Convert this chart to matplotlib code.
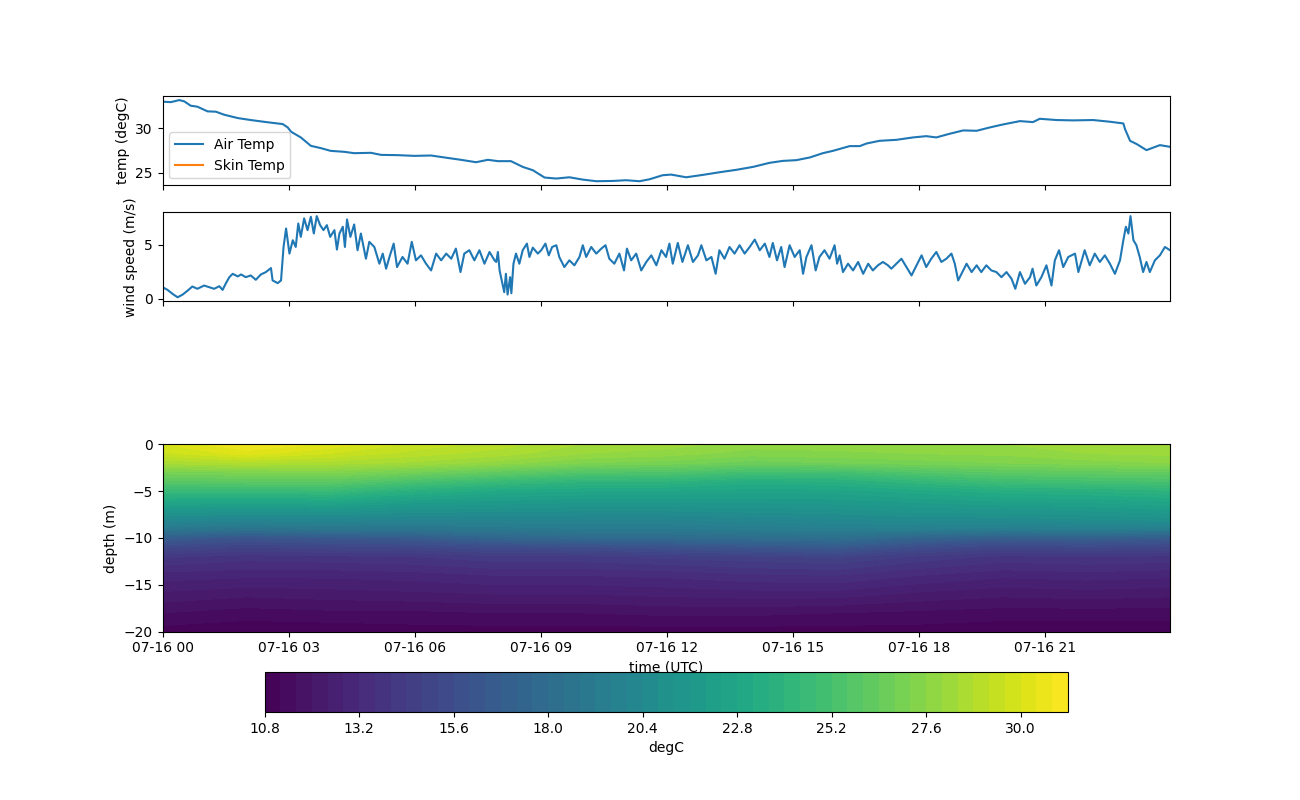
import numpy as np
import pandas as pd
import matplotlib
matplotlib.use("Agg")
import matplotlib.pyplot as plt
import matplotlib.dates as mdates

start = pd.Timestamp("2021-07-16 00:00")

# air temperature (hours since 00 UTC, degC)
air_hours = [0.0, 0.2, 0.4, 0.52, 0.67, 0.83, 1.07, 1.27, 1.47, 1.79, 2.1, 2.42, 2.66, 2.86,
             2.98, 3.06, 3.29, 3.53, 3.77, 4.0, 4.33, 4.56, 4.96, 5.2, 5.6, 5.99, 6.39, 6.71,
             7.1, 7.46, 7.74, 7.98, 8.29, 8.57, 8.81, 9.09, 9.37, 9.68, 10.0, 10.32, 10.71,
             11.03, 11.35, 11.59, 11.9, 12.1, 12.46, 12.86, 13.25, 13.65, 14.05, 14.44, 14.76,
             15.08, 15.4, 15.71, 15.95, 16.35, 16.59, 16.75, 17.06, 17.46, 17.86, 18.17, 18.41,
             18.73, 19.05, 19.37, 19.68, 20.0, 20.4, 20.71, 20.87, 21.27, 21.67, 22.14, 22.54,
             22.86, 22.9, 23.02, 23.18, 23.41, 23.73, 23.97]
air_temp = [32.95, 32.9, 33.13, 32.98, 32.5, 32.39, 31.87, 31.83, 31.49, 31.12, 30.9, 30.7, 30.56,
            30.45, 30.07, 29.59, 28.96, 28.02, 27.76, 27.46, 27.35, 27.2, 27.24, 27.01, 26.98,
            26.9, 26.94, 26.72, 26.46, 26.19, 26.46, 26.31, 26.31, 25.67, 25.3, 24.48, 24.37,
            24.51, 24.25, 24.07, 24.1, 24.18, 24.07, 24.29, 24.74, 24.81, 24.51, 24.78, 25.07,
            25.34, 25.67, 26.12, 26.34, 26.42, 26.72, 27.2, 27.46, 27.99, 27.99, 28.28, 28.58,
            28.69, 28.96, 29.1, 28.96, 29.37, 29.74, 29.7, 30.07, 30.41, 30.78, 30.67, 31.04,
            30.9, 30.86, 30.9, 30.71, 30.52, 29.89, 28.58, 28.21, 27.54, 28.1, 27.91]

# wind speed (hours, m/s)
wind_hours = [0.0, 0.12, 0.24, 0.36, 0.48, 0.6, 0.71, 0.83, 0.99, 1.11, 1.23, 1.35, 1.43, 1.51,
              1.59, 1.67, 1.79, 1.87, 1.98, 2.1, 2.22, 2.34, 2.46, 2.58, 2.62, 2.74, 2.82, 2.88,
              2.94, 3.02, 3.1, 3.17, 3.23, 3.29, 3.37, 3.45, 3.53, 3.6, 3.67, 3.75, 3.83, 3.91,
              3.99, 4.09, 4.15, 4.21, 4.29, 4.34, 4.39, 4.47, 4.56, 4.64, 4.72, 4.84, 4.92, 5.04,
              5.16, 5.24, 5.32, 5.4, 5.5, 5.58, 5.71, 5.83, 5.93, 6.03, 6.15, 6.27, 6.39, 6.51,
              6.63, 6.75, 6.87, 6.98, 7.09, 7.18, 7.3, 7.42, 7.54, 7.66, 7.78, 7.9, 7.94, 7.98,
              8.02, 8.08, 8.13, 8.17, 8.21, 8.27, 8.3, 8.35, 8.41, 8.49, 8.57, 8.67, 8.73, 8.81,
              8.93, 9.01, 9.11, 9.19, 9.27, 9.37, 9.44, 9.56, 9.68, 9.8, 9.92, 10.0, 10.08, 10.2,
              10.32, 10.44, 10.54, 10.63, 10.75, 10.87, 10.98, 11.05, 11.15, 11.27, 11.39, 11.51,
              11.63, 11.75, 11.87, 11.98, 12.06, 12.14, 12.26, 12.37, 12.5, 12.62, 12.74, 12.82,
              12.94, 13.06, 13.16, 13.25, 13.37, 13.49, 13.61, 13.73, 13.85, 13.97, 14.09, 14.21,
              14.33, 14.44, 14.52, 14.62, 14.72, 14.8, 14.92, 15.04, 15.16, 15.24, 15.32, 15.44,
              15.54, 15.63, 15.75, 15.87, 15.99, 16.05, 16.11, 16.19, 16.31, 16.43, 16.55, 16.67,
              16.79, 16.9, 17.02, 17.14, 17.26, 17.34, 17.46, 17.58, 17.7, 17.82, 17.94, 18.06,
              18.17, 18.29, 18.41, 18.53, 18.65, 18.77, 18.85, 18.93, 19.01, 19.13, 19.25, 19.37,
              19.48, 19.6, 19.72, 19.84, 19.96, 20.08, 20.2, 20.29, 20.4, 20.52, 20.64, 20.7,
              20.79, 20.91, 21.03, 21.15, 21.23, 21.33, 21.43, 21.55, 21.71, 21.79, 21.94, 22.06,
              22.18, 22.3, 22.42, 22.54, 22.66, 22.78, 22.86, 22.92, 22.98, 23.03, 23.1, 23.17,
              23.25, 23.33, 23.41, 23.49, 23.61, 23.73, 23.85, 23.97]
wind_speed = [1.08, 0.83, 0.46, 0.15, 0.4, 0.77, 1.14, 0.93, 1.23, 1.08, 0.93, 1.17, 0.83, 1.45,
              2.0, 2.31, 2.07, 2.25, 2.0, 2.16, 1.76, 2.25, 2.47, 2.84, 1.7, 1.45, 1.7, 4.78,
              6.48, 4.17, 5.4, 4.78, 6.94, 5.71, 7.41, 6.33, 7.56, 6.02, 7.62, 6.79, 6.33, 6.79,
              5.71, 6.33, 4.54, 6.02, 6.64, 4.78, 7.31, 5.71, 6.85, 4.48, 6.02, 3.7, 5.25, 4.78,
              3.24, 4.17, 2.78, 3.86, 5.09, 2.93, 3.86, 3.24, 5.25, 3.55, 4.01, 3.24, 2.62, 4.17,
              3.55, 4.17, 3.7, 4.63, 2.47, 4.17, 4.48, 3.55, 4.48, 3.24, 4.32, 3.55, 3.4, 4.32,
              2.62, 1.54, 0.62, 2.31, 0.4, 2.0, 0.52, 3.24, 4.17, 3.24, 4.48, 5.09, 3.86, 4.72,
              4.17, 4.48, 5.09, 4.01, 4.78, 4.94, 3.86, 2.93, 3.55, 3.09, 3.86, 4.94, 3.86, 4.78,
              4.17, 4.63, 4.94, 3.7, 3.24, 4.17, 2.62, 4.63, 3.55, 4.17, 2.62, 3.4,
              4.01, 3.09, 4.48, 3.86, 5.09, 3.24, 5.15, 3.4, 4.94, 3.4, 4.01, 4.94,
              3.55, 3.86, 2.31, 4.48, 3.7, 4.78, 4.17, 4.94, 4.17, 4.78, 5.46, 4.48,
              5.09, 3.86, 5.15, 3.55, 4.78, 2.93, 4.94, 3.86, 4.48, 2.31, 3.86, 4.94,
              2.62, 3.86, 4.48, 3.7, 4.94, 3.24, 4.01, 2.47, 3.24, 2.62, 3.4, 2.31,
              3.24, 2.62, 3.09, 3.4, 3.09, 2.78, 3.24, 3.7, 2.93, 2.16, 3.09, 4.01,
              2.93, 3.7, 4.32, 3.4, 3.7, 4.17, 3.24, 1.7, 2.31, 3.24, 2.47, 3.09,
              2.47, 3.09, 2.62, 2.47, 2.0, 2.47, 1.85, 0.93, 2.47, 1.39, 2.0, 2.78,
              1.23, 2.0, 3.09, 1.23, 3.55, 4.48, 2.93, 3.86, 4.17, 2.47, 4.48, 3.09,
              4.17, 3.4, 4.01, 3.24, 2.31, 3.55, 5.4, 6.64, 6.02, 7.62, 5.4, 4.94,
              3.86, 2.47, 3.4, 2.47, 3.55, 4.01, 4.78, 4.48]

# water temperature section (degC), rows = depth, columns = time
sec_hours = [0, 2, 4, 6, 8, 10, 12, 14, 16, 18, 20, 22, 24]
sec_depth = [0, -1, -2, -3, -4, -5, -6, -7, -8, -9, -10, -11, -12, -14, -16, -18, -20]
sec_temp = [
    [30.0, 30.8, 30.3, 29.5, 29.0, 28.4, 28.2, 27.8, 27.8, 27.9, 28.0, 28.3, 28.4],
    [29.5, 30.2, 29.6, 29.0, 28.6, 28.0, 27.8, 27.4, 27.5, 27.6, 27.7, 28.0, 28.1],
    [28.5, 28.8, 28.6, 28.3, 27.8, 27.2, 27.0, 26.6, 26.8, 27.0, 27.2, 27.4, 27.6],
    [27.0, 27.2, 27.3, 26.8, 26.2, 25.6, 25.5, 25.0, 25.0, 25.6, 26.0, 26.2, 26.3],
    [25.8, 26.0, 26.0, 25.2, 24.5, 24.0, 23.9, 23.4, 23.6, 24.2, 24.8, 25.0, 25.2],
    [24.4, 24.4, 24.5, 23.6, 23.0, 22.8, 22.7, 22.6, 22.6, 23.0, 23.4, 23.6, 23.9],
    [23.0, 22.9, 23.0, 22.3, 22.0, 21.8, 21.8, 21.8, 21.9, 22.2, 22.5, 22.6, 22.9],
    [21.6, 21.4, 21.5, 21.1, 21.0, 20.9, 20.9, 21.0, 21.1, 21.4, 21.5, 21.7, 22.0],
    [20.4, 20.1, 20.2, 20.0, 20.0, 20.0, 20.0, 20.2, 20.4, 20.6, 20.6, 20.8, 21.0],
    [19.0, 18.6, 18.8, 18.8, 19.0, 19.2, 19.2, 19.4, 19.5, 19.6, 19.5, 19.6, 19.4],
    [16.8, 16.1, 16.4, 16.6, 17.4, 17.7, 17.8, 18.0, 18.2, 17.3, 16.8, 17.0, 16.6],
    [15.2, 14.8, 15.0, 15.1, 15.5, 15.6, 15.9, 16.2, 16.5, 15.5, 15.0, 15.2, 15.0],
    [14.1, 13.8, 13.9, 14.0, 14.3, 14.3, 14.5, 14.7, 14.9, 14.3, 13.9, 14.0, 13.9],
    [13.0, 12.9, 12.9, 13.0, 13.2, 13.2, 13.3, 13.5, 13.6, 13.2, 12.9, 13.0, 12.9],
    [12.3, 12.1, 12.2, 12.3, 12.4, 12.4, 12.5, 12.6, 12.6, 12.3, 12.1, 12.2, 12.1],
    [11.6, 11.4, 11.5, 11.5, 11.6, 11.6, 11.7, 11.7, 11.6, 11.5, 11.4, 11.4, 11.4],
    [11.0, 10.9, 10.9, 11.0, 11.0, 11.0, 11.0, 11.0, 11.0, 11.0, 10.9, 10.9, 10.9],
]
cbar_ticks = [10.8, 13.2, 15.6, 18.0, 20.4, 22.8, 25.2, 27.6, 30.0]


def to_time(hours):
    return start + pd.to_timedelta(np.asarray(hours), unit="h")


fig, axes = plt.subplots(4, 1, figsize=(13, 8), sharex=True,
                         gridspec_kw={"height_ratios": [1, 1, 1, 3]})

ax = axes[0]
ax.plot(to_time(air_hours), air_temp, label="Air Temp")
ax.plot([], [], label="Skin Temp")
ax.set_ylabel("temp (degC)")
ax.legend(loc="lower left")

ax = axes[1]
ax.plot(to_time(wind_hours), wind_speed)
ax.set_ylabel("wind speed (m/s)")

axes[2].set_visible(False)

ax = axes[3]
tt, dd = np.meshgrid(mdates.date2num(to_time(sec_hours)), sec_depth)
levels = np.arange(10.8, 31.25, 0.4)
cs = ax.contourf(tt, dd, np.array(sec_temp), levels=levels, cmap="viridis")
ax.set_ylabel("depth (m)")
ax.set_xlabel("time (UTC)")
ax.set_xlim(to_time([0])[0], to_time([23.97])[0])
ax.xaxis.set_major_locator(mdates.HourLocator(interval=3))
ax.xaxis.set_major_formatter(mdates.DateFormatter("%m-%d %H"))

cb = fig.colorbar(cs, ax=axes[3], orientation="horizontal", shrink=0.8)
cb.set_label("degC")
cb.set_ticks(cbar_ticks)

fig.savefig("out.png", dpi=100)
